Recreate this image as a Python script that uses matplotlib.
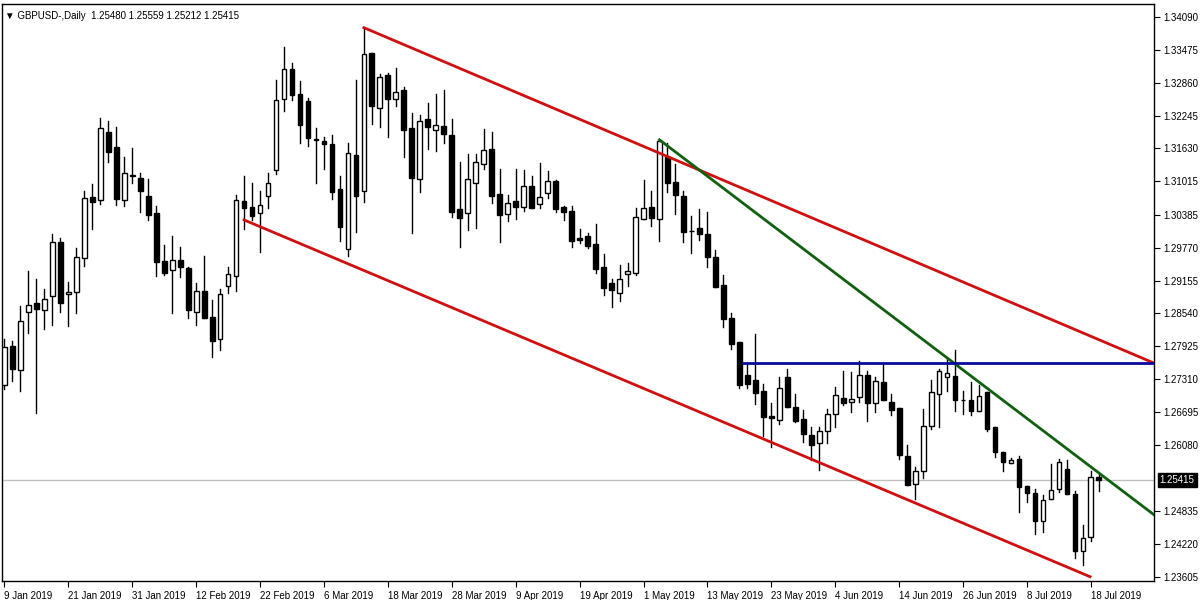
import pandas as pd
import matplotlib.pyplot as plt
from matplotlib.patches import Rectangle

plt.rcParams['font.family'] = ['Liberation Sans', 'DejaVu Sans']

# Daily GBPUSD bars, 9 Jan 2019 .. 19 Jul 2019 (weekdays)
dates = pd.bdate_range("2019-01-09", "2019-07-19")

opens = [1.2720, 1.2793, 1.2748, 1.2857, 1.2874, 1.2861, 1.2887, 1.2988, 1.2891, 1.2894,
         1.2958, 1.3072, 1.3067, 1.3194, 1.3166, 1.3067, 1.3113, 1.3108, 1.3074, 1.3042,
         1.2952, 1.2936, 1.2954, 1.2939, 1.2857, 1.2896, 1.2848, 1.2806, 1.2906, 1.2924,
         1.3065, 1.3054, 1.3042, 1.3074, 1.3123, 1.3256, 1.3312, 1.3265, 1.3252, 1.3181,
         1.3177, 1.3171, 1.3087, 1.2975, 1.3151, 1.3083, 1.3342, 1.3239, 1.3301, 1.3256,
         1.3273, 1.3201, 1.3106, 1.3218, 1.3198, 1.3205, 1.3188, 1.3050, 1.3042, 1.3098,
         1.3134, 1.3162, 1.3078, 1.3040, 1.3065, 1.3054, 1.3093, 1.3059, 1.3080, 1.3102,
         1.3054, 1.3046, 1.2995, 1.2999, 1.2984, 1.2941, 1.2911, 1.2892, 1.2928, 1.2930,
         1.3031, 1.3054, 1.3031, 1.3147, 1.3100, 1.3074, 1.3008, 1.3014, 1.3003, 1.2960,
         1.2908, 1.2846, 1.2801, 1.2739, 1.2730, 1.2709, 1.2662, 1.2655, 1.2735, 1.2679,
         1.2657, 1.2627, 1.2612, 1.2633, 1.2666, 1.2696, 1.2689, 1.2698, 1.2739, 1.2687,
         1.2726, 1.2689, 1.2677, 1.2587, 1.2535, 1.2559, 1.2644, 1.2703, 1.2735, 1.2737,
         1.2691, 1.2692, 1.2672, 1.2707, 1.2642, 1.2595, 1.2574, 1.2582, 1.2531, 1.2518,
         1.2466, 1.2507, 1.2526, 1.2563, 1.2516, 1.2410, 1.2436, 1.25480]
highs = [1.2806, 1.2803, 1.2868, 1.2934, 1.2919, 1.2900, 1.3003, 1.2995, 1.2913, 1.2977,
         1.3083, 1.3097, 1.3220, 1.3215, 1.3203, 1.3147, 1.3164, 1.3117, 1.3106, 1.3055,
         1.2982, 1.2999, 1.2979, 1.2941, 1.2911, 1.2962, 1.2879, 1.2900, 1.2941, 1.3076,
         1.3112, 1.3098, 1.3083, 1.3117, 1.3291, 1.3353, 1.3323, 1.3289, 1.3258, 1.3201,
         1.3184, 1.3188, 1.3112, 1.3173, 1.3291, 1.3389, 1.3342, 1.3303, 1.3304, 1.3314,
         1.3278, 1.3230, 1.3226, 1.3248, 1.3265, 1.3273, 1.3218, 1.3138, 1.3153, 1.3153,
         1.3200, 1.3194, 1.3125, 1.3076, 1.3125, 1.3123, 1.3112, 1.3136, 1.3121, 1.3104,
         1.3055, 1.3055, 1.3012, 1.3005, 1.3022, 1.2966, 1.2919, 1.2945, 1.2949, 1.3052,
         1.3104, 1.3083, 1.3177, 1.3173, 1.3134, 1.3083, 1.3037, 1.3050, 1.3044, 1.2973,
         1.2926, 1.2855, 1.2801, 1.2760, 1.2816, 1.2722, 1.2687, 1.2735, 1.2750, 1.2703,
         1.2674, 1.2642, 1.2642, 1.2675, 1.2717, 1.2746, 1.2745, 1.2765, 1.2746, 1.2735,
         1.2760, 1.2703, 1.2677, 1.2608, 1.2567, 1.2675, 1.2730, 1.2750, 1.2769, 1.2786,
         1.2709, 1.2726, 1.2720, 1.2707, 1.2642, 1.2595, 1.2584, 1.2587, 1.2531, 1.2526,
         1.2514, 1.2572, 1.2582, 1.2580, 1.2522, 1.2458, 1.2559, 1.25559]
lows = [1.2713, 1.2728, 1.2709, 1.2818, 1.2668, 1.2825, 1.2833, 1.2857, 1.2831, 1.2855,
        1.2943, 1.3012, 1.3059, 1.3138, 1.3057, 1.3055, 1.3098, 1.3044, 1.3029, 1.2924,
        1.2926, 1.2855, 1.2922, 1.2846, 1.2833, 1.2846, 1.2773, 1.2786, 1.2892, 1.2896,
        1.3012, 1.3029, 1.2969, 1.3052, 1.3115, 1.3233, 1.3254, 1.3173, 1.3168, 1.3098,
        1.3125, 1.3069, 1.2990, 1.2962, 1.3007, 1.3063, 1.3209, 1.3203, 1.3185, 1.3243,
        1.3147, 1.3005, 1.3082, 1.3162, 1.3158, 1.3173, 1.3035, 1.2979, 1.3010, 1.3014,
        1.3125, 1.3061, 1.2988, 1.3027, 1.3031, 1.3046, 1.3052, 1.3052, 1.3070, 1.3044,
        1.3029, 1.2979, 1.2986, 1.2977, 1.2930, 1.2889, 1.2866, 1.2877, 1.2906, 1.2926,
        1.3031, 1.3018, 1.2990, 1.3082, 1.3040, 1.2988, 1.2967, 1.2992, 1.2941, 1.2904,
        1.2829, 1.2788, 1.2715, 1.2715, 1.2685, 1.2625, 1.2604, 1.2647, 1.2679, 1.2651,
        1.2614, 1.2580, 1.2561, 1.2612, 1.2642, 1.2683, 1.2670, 1.2689, 1.2653, 1.2670,
        1.2691, 1.2664, 1.2582, 1.2533, 1.2507, 1.2545, 1.2638, 1.2642, 1.2709, 1.2672,
        1.2666, 1.2664, 1.2672, 1.2634, 1.2586, 1.2559, 1.2574, 1.2483, 1.2501, 1.2441,
        1.2445, 1.2507, 1.2520, 1.2516, 1.2396, 1.2383, 1.2428, 1.25212]
closes = [1.2791, 1.2750, 1.2840, 1.2870, 1.2863, 1.2881, 1.2988, 1.2874, 1.2894, 1.2960,
          1.3070, 1.3063, 1.3201, 1.3157, 1.3069, 1.3117, 1.3112, 1.3083, 1.3039, 1.2951,
          1.2930, 1.2954, 1.2941, 1.2861, 1.2896, 1.2846, 1.2803, 1.2891, 1.2928, 1.3067,
          1.3052, 1.3037, 1.3057, 1.3098, 1.3254, 1.3312, 1.3263, 1.3207, 1.3183, 1.3179,
          1.3171, 1.3082, 1.3016, 1.3155, 1.3074, 1.3340, 1.3243, 1.3297, 1.3256, 1.3269,
          1.3197, 1.3108, 1.3215, 1.3203, 1.3207, 1.3190, 1.3044, 1.3033, 1.3106, 1.3138,
          1.3160, 1.3074, 1.3039, 1.3061, 1.3054, 1.3093, 1.3052, 1.3072, 1.3102, 1.3050,
          1.3044, 1.2990, 1.2992, 1.2980, 1.2937, 1.2902, 1.2898, 1.2919, 1.2934, 1.3035,
          1.3052, 1.3033, 1.3177, 1.3098, 1.3076, 1.3007, 1.3008, 1.3003, 1.2960, 1.2904,
          1.2844, 1.2797, 1.2720, 1.2722, 1.2705, 1.2660, 1.2659, 1.2715, 1.2679, 1.2653,
          1.2629, 1.2608, 1.2633, 1.2666, 1.2702, 1.2687, 1.2694, 1.2739, 1.2687, 1.2728,
          1.2691, 1.2674, 1.2589, 1.2533, 1.2559, 1.2644, 1.2707, 1.2746, 1.2743, 1.2691,
          1.2691, 1.2672, 1.2700, 1.2638, 1.2595, 1.2576, 1.2580, 1.2529, 1.2518, 1.2466,
          1.2505, 1.2524, 1.2576, 1.2516, 1.2410, 1.2434, 1.2548, 1.25415]

# trend lines: (bar index, price) pairs
upper_channel = [(45, 1.3389), (143.9, 1.2761)]
lower_channel = [(30, 1.3029), (135.9, 1.2361)]
green_trend = [(82, 1.3179), (143.9, 1.2477)]
blue_level = [(92.4, 1.2761), (143.9, 1.2761)]

tick_labels = ["9 Jan 2019", "21 Jan 2019", "31 Jan 2019", "12 Feb 2019", "22 Feb 2019",
               "6 Mar 2019", "18 Mar 2019", "28 Mar 2019", "9 Apr 2019", "19 Apr 2019",
               "1 May 2019", "13 May 2019", "23 May 2019", "4 Jun 2019", "14 Jun 2019",
               "26 Jun 2019", "8 Jul 2019", "18 Jul 2019"]
price_ticks = [1.34090, 1.33475, 1.32860, 1.32245, 1.31630, 1.31015, 1.30385, 1.29770,
               1.29155, 1.28540, 1.27925, 1.27310, 1.26695, 1.26080, 1.24835, 1.24220, 1.23605]
last_price = 1.25415

fig = plt.figure(figsize=(12, 6), dpi=100)
ax = fig.add_axes([2 / 1200, 19 / 600, 1152 / 1200, 577 / 600])

# candles
body_w = 0.6
for i in range(len(opens)):
    o, h, l, c = opens[i], highs[i], lows[i], closes[i]
    ax.plot([i, i], [l, h], color='black', linewidth=1, zorder=2)
    bottom = min(o, c)
    height = max(abs(c - o), 0.00003)
    face = 'white' if c >= o else 'black'
    ax.add_patch(Rectangle((i - body_w / 2, bottom), body_w, height, facecolor=face,
                           edgecolor='black', linewidth=1, zorder=3))

# lines
for pts, col in [(upper_channel, '#d01010'), (lower_channel, '#d01010'),
                 (green_trend, '#106010'), (blue_level, '#0a0a9a')]:
    ax.plot([pts[0][0], pts[1][0]], [pts[0][1], pts[1][1]], color=col, linewidth=2, zorder=4)
ax.axhline(last_price, color='#c0c0c0', linewidth=1, zorder=1)

ax.set_xlim(-0.3, 143.9)
ax.set_ylim(1.23530, 1.34333)

tick_pos = [list(dates).index(pd.Timestamp(d)) for d in
            pd.to_datetime(tick_labels, format="%d %b %Y")]
ax.set_xticks(tick_pos)
ax.set_xticklabels(tick_labels, ha='left', fontsize=7)
ax.tick_params(axis='x', length=4, pad=3)

ax.yaxis.tick_right()
ax.set_yticks(price_ticks)
ax.set_yticklabels([f"{p:.5f}" for p in price_ticks], fontsize=7)
ax.tick_params(axis='y', length=4, pad=3)
ax.text(1.005, last_price, f"{last_price:.5f}", transform=ax.get_yaxis_transform(),
        va='center', ha='left', fontsize=7, color='white',
        bbox=dict(facecolor='black', edgecolor='black', pad=1.5), clip_on=False)

for s in ax.spines.values():
    s.set_linewidth(1)

ax.text(0.003, 0.988, "\u25bc GBPUSD-,Daily  1.25480 1.25559 1.25212 1.25415",
        transform=ax.transAxes, fontsize=7, va='top', ha='left')

fig.savefig("out.png")
